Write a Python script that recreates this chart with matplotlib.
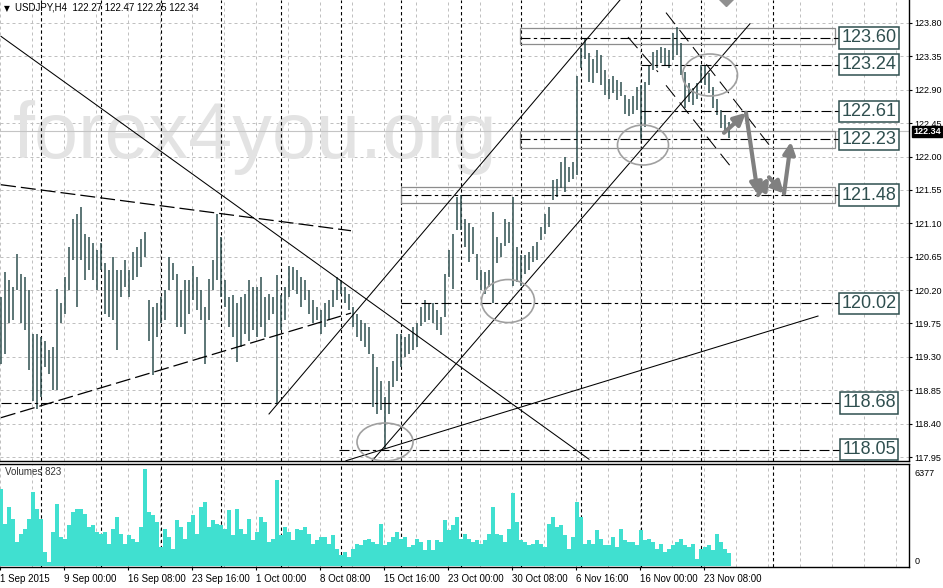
import matplotlib
matplotlib.use('Agg')
import matplotlib.pyplot as plt
from matplotlib.patches import Ellipse, Rectangle
from matplotlib import transforms
import numpy as np

plt.rcParams['font.family'] = ['Liberation Sans', 'DejaVu Sans']

# ---------------- data (USDJPY H4, sampled every 2nd bar) ----------------
highs = [
    120.11, 120.44, 120.33, 120.24, 120.68, 120.42, 120.38, 120.20, 119.61, 119.61,
    119.57, 119.52, 119.39, 119.43, 120.22, 120.02, 120.38, 120.78, 121.16, 121.23,
    121.32, 120.96, 120.92, 120.83, 120.74, 120.83, 120.56, 120.47, 120.65, 120.47,
    120.47, 120.60, 120.47, 120.71, 120.78, 120.89, 120.98, 120.06, 119.97, 120.02,
    120.11, 120.20, 120.65, 120.56, 120.42, 120.20, 120.33, 120.33, 120.53, 120.38,
    120.20, 119.97, 120.35, 120.60, 121.23, 120.92, 120.33, 120.11, 120.13, 120.02,
    120.11, 120.15, 120.33, 120.24, 120.24, 120.38, 120.11, 120.15, 120.11, 120.40,
    120.13, 120.24, 120.53, 120.51, 120.47, 120.38, 120.33, 120.20, 120.06, 119.97,
    119.93, 120.02, 120.06, 120.20, 120.37, 120.33, 120.24, 120.15, 119.97, 119.88,
    119.79, 119.75, 119.70, 119.34, 119.16, 118.98, 118.76, 118.98, 119.25, 119.61,
    119.61, 119.57, 119.61, 119.70, 119.75, 119.97, 120.06, 120.02, 120.02, 119.93,
    119.84, 120.42, 120.74, 120.96, 121.46, 121.48, 121.16, 121.10, 121.05, 120.69,
    120.47, 120.44, 120.47, 121.25, 120.92, 120.83, 121.16, 121.12, 121.46, 120.78,
    120.67, 120.67, 120.71, 120.80, 120.85, 121.05, 121.23, 121.32, 121.68, 121.70,
    121.93, 121.99, 121.86, 121.93, 123.08, 123.46, 123.59, 123.39, 123.32, 123.44,
    123.37, 123.17, 123.05, 123.08, 123.03, 123.01, 122.83, 122.78, 122.81, 122.94,
    122.96, 123.01, 123.23, 123.41, 123.44, 123.48, 123.46, 123.44, 123.66, 123.75,
    123.53, 123.14, 122.99, 122.92, 122.99, 123.23, 123.23, 123.12, 122.94, 122.78,
    122.63, 122.56, 122.47,
]
lows = [
    119.21, 119.34, 119.75, 119.79, 120.20, 119.75, 119.66, 119.12, 118.71, 118.60,
    118.76, 119.16, 119.07, 118.85, 118.85, 119.75, 119.88, 120.20, 120.60, 119.97,
    120.60, 120.33, 120.47, 120.33, 120.20, 120.47, 119.88, 119.84, 119.79, 119.39,
    120.11, 120.24, 120.11, 120.33, 120.38, 120.51, 120.65, 119.52, 119.05, 119.57,
    119.75, 119.79, 120.20, 120.33, 119.70, 119.70, 119.61, 119.88, 120.06, 119.93,
    119.79, 119.21, 119.79, 120.20, 120.33, 120.11, 119.97, 119.70, 119.57, 119.23,
    119.43, 119.61, 119.52, 119.66, 119.57, 119.70, 119.57, 119.79, 119.88, 118.67,
    119.66, 119.79, 120.11, 120.20, 120.15, 119.97, 120.06, 119.88, 119.75, 119.79,
    119.61, 119.70, 119.79, 119.97, 120.06, 120.15, 120.02, 119.93, 119.70, 119.57,
    119.52, 119.43, 119.34, 118.62, 118.53, 118.58, 118.06, 118.53, 118.89, 118.98,
    119.16, 119.30, 119.34, 119.39, 119.43, 119.72, 119.77, 119.79, 119.75, 119.66,
    119.59, 119.84, 120.38, 120.22, 121.01, 121.01, 120.78, 120.58, 120.69, 120.33,
    120.20, 120.15, 120.24, 120.03, 120.56, 120.65, 120.80, 120.83, 120.26, 120.31,
    120.26, 120.42, 120.47, 120.58, 120.60, 120.87, 120.96, 121.05, 121.41, 121.46,
    121.57, 121.52, 121.66, 121.70, 121.75, 123.19, 123.32, 123.01, 122.99, 123.12,
    122.96, 122.83, 122.78, 122.85, 122.76, 122.81, 122.58, 122.54, 122.58, 122.63,
    122.23, 122.40, 122.96, 123.17, 123.19, 123.26, 123.23, 123.19, 123.30, 123.37,
    123.10, 122.65, 122.74, 122.70, 122.78, 122.99, 122.96, 122.85, 122.65, 122.56,
    122.38, 122.33, 122.25,
]
volumes = [
    5080, 2780, 3880, 3110, 1580, 2120, 2450, 3110, 4860, 3770,
    3110, 920, 260, 2230, 4100, 1910, 1800, 2670, 3550, 3770,
    3770, 3440, 2560, 2670, 2230, 2120, 2230, 1470, 2450, 3220,
    2120, 1470, 2010, 1800, 1580, 2560, 6350, 3550, 3330, 2890,
    1250, 2450, 1910, 1140, 3000, 2560, 1800, 2890, 3330, 2120,
    3880, 4200, 2560, 3000, 2780, 2670, 2450, 3660, 2010, 3770,
    2450, 2120, 3110, 1690, 2230, 3220, 2890, 1580, 1800, 5630,
    2010, 2560, 2230, 1690, 2450, 2340, 2560, 2120, 1470, 1690,
    1910, 1910, 1470, 2010, 1140, 700, 920, 590, 1140, 1470,
    1360, 1690, 1800, 1580, 1470, 2780, 1360, 1580, 1910, 2230,
    1800, 1910, 1250, 1360, 1800, 1580, 1030, 1690, 1030, 1690,
    1580, 3000, 2340, 2670, 3220, 1800, 2120, 1800, 1580, 1690,
    1470, 1690, 2120, 3880, 2120, 2010, 1580, 2450, 4820, 2890,
    1690, 1580, 1360, 1470, 1690, 1470, 1250, 2780, 3220, 2560,
    2670, 2010, 1140, 1910, 4200, 3220, 1470, 1690, 1470, 2340,
    1800, 1360, 1360, 1910, 1250, 2450, 1690, 1580, 1580, 1360,
    2340, 1690, 1800, 1580, 1140, 1470, 920, 1140, 1360, 1580,
    1800, 1360, 1250, 1470, 480, 1140, 1250, 1360, 1030, 2120,
    1580, 1140, 823,
]
price_ticks = [117.95, 118.40, 118.85, 119.30, 119.75, 120.20, 120.65,
               121.10, 121.55, 122.00, 122.45, 122.90, 123.35, 123.80]
date_labels = ['1 Sep 2015', '9 Sep 00:00', '16 Sep 08:00', '23 Sep 16:00',
               '1 Oct 00:00', '8 Oct 08:00', '15 Oct 16:00', '23 Oct 00:00',
               '30 Oct 08:00', '6 Nov 16:00', '16 Nov 00:00', '23 Nov 08:00']
levels = [123.60, 123.24, 122.61, 122.23, 121.48, 120.02, 118.68, 118.05]
level_start = [129.75, 160, 160, 129.75, 100, 100, 0, 84.5]
last_ohlc = [122.27, 122.47, 122.25, 122.34]

# ---------------- figure / panes ----------------
W, H = 943, 588
fig = plt.figure(figsize=(W / 100, H / 100), dpi=100)
fig.patch.set_facecolor('white')


def px_axes(x0, y0, x1, y1):
    return fig.add_axes([x0 / W, 1 - y1 / H, (x1 - x0) / W, (y1 - y0) / H])


ax = px_axes(0, 0, 909, 461)
axv = px_axes(0, 463.5, 909, 567)

n = len(highs)
xs = np.arange(n)
XL = (-0.25, 227.0)
for a in (ax, axv):
    a.set_xlim(*XL)
    a.set_facecolor('white')
ax.set_ylim(117.95 - 4 / 74.19, 123.80 + 23 / 74.19)
axv.set_ylim(-66, 6738)

GRID = '#c0c0c0'
for k in range(0, 29):
    for a in (ax, axv):
        a.axvline(8 * k - 0.25, color=GRID, lw=0.72, ls=(0, (3, 3)), zorder=0)
for p in price_ticks:
    ax.axhline(p, color=GRID, lw=0.72, ls=(0, (3, 3)), zorder=0)

# period separators
seps = [9.93 + 15 * k for k in range(12)] + [192.9]
for s in seps:
    for a in (ax, axv):
        a.axvline(s, color='black', lw=0.8, ls=(0, (3, 2.5)), zorder=1)

# watermark
ax.text(3, 121.98, 'forex4you.org', fontsize=57, color='#e3e3e3',
        va='baseline', ha='left', zorder=0.5, family=['Liberation Sans', 'DejaVu Sans'])

# bid line
ax.axhline(last_ohlc[3], color='#c4c4c4', lw=0.8, zorder=1)

# price bars
ax.vlines(xs, lows, highs, color='#2F4F4F', lw=1.1, zorder=3)

# volume bars
axv.bar(xs, volumes, width=1.0, color='#40E0D0', linewidth=0, zorder=2)

# level rectangles
for (u0, u1, p0, p1) in [(129.75, 208.5, 123.513, 123.729),
                         (129.75, 208.5, 122.115, 122.344),
                         (100.0, 208.5, 121.373, 121.589)]:
    ax.add_patch(Rectangle((u0, p0), u1 - u0, p1 - p0, fill=False,
                           ec='#8c8c8c', lw=0.9, zorder=2))

# level lines + labels
for lv, st in zip(levels, level_start):
    ax.plot([st, 208.75], [lv, lv], color='black', lw=0.8,
            ls=(0, (9, 3, 3, 3)), zorder=4)
    ax.plot([208.75, 210.75], [lv, lv], color='black', lw=0.8, zorder=4)
    ax.text(217, lv, f'{lv:.2f}', fontsize=13, color='#2F4F4F',
            family=['Liberation Sans Narrow', 'Liberation Sans', 'DejaVu Sans'],
            ha='center', va='center', zorder=6,
            bbox=dict(boxstyle='square,pad=0.12', fc='white', ec='#2F4F4F', lw=1.1))

# trend lines
solid_lines = [((0, 123.62), (147, 117.92)),
               ((67, 118.53), (154.75, 124.11)),
               ((92.5, 117.88), (187.25, 123.79)),
               ((86.25, 117.90), (204.25, 119.85))]
for (a0, a1) in solid_lines:
    ax.plot([a0[0], a1[0]], [a0[1], a1[1]], color='black', lw=0.75, zorder=4)
dashed_lines = [((0, 121.62), (87.5, 121.00)),
                ((0, 118.48), (87.5, 119.89))]
for (a0, a1) in dashed_lines:
    ax.plot([a0[0], a1[0]], [a0[1], a1[1]], color='black', lw=0.9,
            ls=(0, (12, 4)), zorder=4)
nov_lines = [((156.75, 123.61), (164.25, 123.14)),
             ((166.25, 123.94), (192.0, 122.16)),
             ((166.25, 122.96), (182.5, 121.86))]
for (a0, a1) in nov_lines:
    ax.plot([a0[0], a1[0]], [a0[1], a1[1]], color='black', lw=0.75,
            ls=(0, (14, 7)), zorder=4)

# ellipses
for (cu, cp, w, h) in [(96, 118.152, 14, 0.512), (126.75, 120.052, 13.25, 0.58),
                       (160.5, 122.155, 12.75, 0.539), (177.25, 123.099, 13.75, 0.566)]:
    ax.add_patch(Ellipse((cu, cp), w, h, fill=False, ec='#a0a0a0', lw=1.2, zorder=5))

# forecast arrows
path = [(180.75, 122.32), (186.25, 122.59), (189.25, 121.48), (192.0, 121.72),
        (195.75, 121.50), (197.5, 122.20)]
for a0, a1 in zip(path[:-1], path[1:]):
    ax.annotate('', xy=a1, xytext=a0, zorder=6,
                arrowprops=dict(arrowstyle='-|>,head_length=0.7,head_width=0.35',
                                lw=3, color='#808080', shrinkA=0, shrinkB=0))
ax.plot([181.25], [124.12], marker='D', ms=7, color='#909090', zorder=6)

# axes styling
for a in (ax, axv):
    a.spines['left'].set_visible(False)
    a.spines['right'].set_linewidth(1.0)
ax.spines['top'].set_visible(False)
ax.spines['bottom'].set_linewidth(1.0)
axv.spines['top'].set_linewidth(1.0)
axv.spines['bottom'].set_linewidth(1.0)

ax.yaxis.tick_right()
ax.set_yticks(price_ticks)
ax.set_yticklabels([f'{p:.2f}' for p in price_ticks])
ax.tick_params(axis='y', direction='out', length=2, width=0.8, labelsize=6.5, pad=1.5)
ax.set_xticks([])

axv.set_yticks([])
axv.set_xticks([16 * k - 0.25 for k in range(len(date_labels))])
axv.set_xticklabels(date_labels)
for t in axv.get_xticklabels():
    t.set_horizontalalignment('left')
axv.tick_params(axis='x', direction='out', length=2, width=0.8, labelsize=7, pad=3)

# current price marker
bt = transforms.blended_transform_factory(ax.transAxes, ax.transData)
ax.text(1.005, last_ohlc[3], f'{last_ohlc[3]:.2f}', transform=bt, fontsize=6.5,
        color='white', fontweight='bold', ha='left', va='center', zorder=10,
        clip_on=False, bbox=dict(boxstyle='square,pad=0.12', fc='black', ec='black'))

# volume pane labels
bv = transforms.blended_transform_factory(axv.transAxes, axv.transData)
axv.text(1.006, 6377, '6377', transform=bv, fontsize=6.5, ha='left', va='top', clip_on=False)
axv.text(1.006, 0, '0', transform=bv, fontsize=6.5, ha='left', va='bottom', clip_on=False)
axv.text(5 / 909, 0.92, f'Volumes {volumes[-1]}', transform=axv.transAxes,
         fontsize=7, ha='left', va='center', color='#333333')

# header
fig.text(4 / W, 1 - 8.5 / H, '\u25bc', fontsize=5.5, family='DejaVu Sans',
         ha='left', va='center')
fig.text(15 / W, 1 - 8 / H,
         'USDJPY,H4  ' + ' '.join(f'{v:.2f}' for v in last_ohlc),
         fontsize=7, ha='left', va='center')

fig.savefig('out.png', dpi=100)
